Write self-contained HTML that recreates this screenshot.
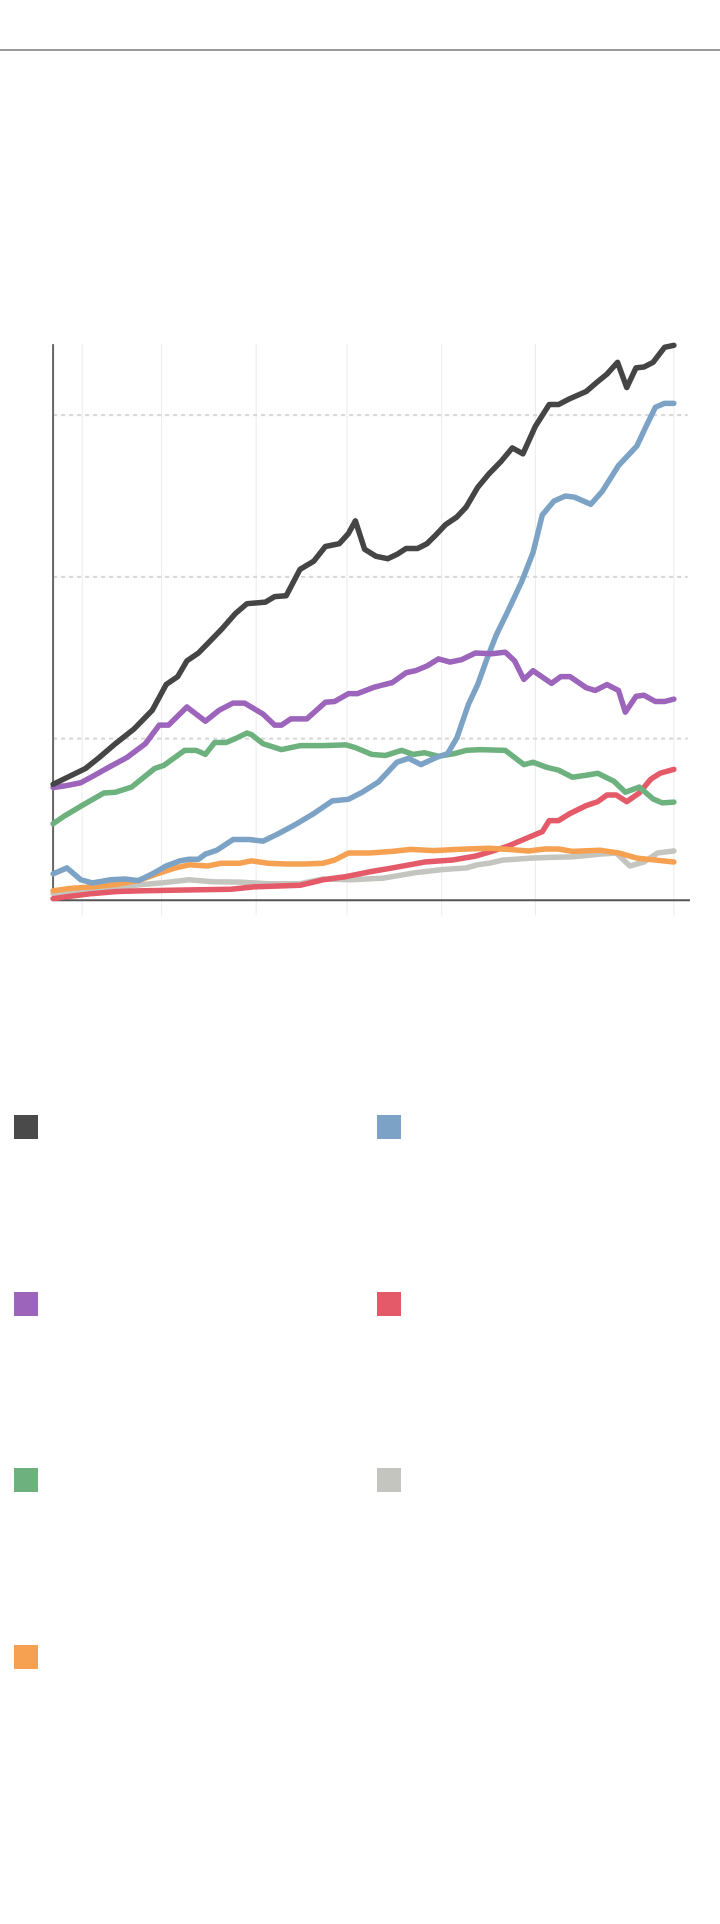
<!DOCTYPE html>
<html><head><meta charset="utf-8"><style>
html,body{margin:0;padding:0;background:#fff;width:720px;height:1924px;overflow:hidden;position:relative;font-family:"Liberation Sans",sans-serif}
.top{position:absolute;left:0;top:49px;width:720px;height:2px;background:#999}
.sq{position:absolute;width:24px;height:24px}
</style></head><body>
<div class="top"></div>
<svg style="position:absolute;left:0;top:300px" width="720" height="620" viewBox="0 0 1560 1572" preserveAspectRatio="none">
<g stroke="#ebebeb" stroke-width="1" vector-effect="non-scaling-stroke">
<line x1="178" y1="112" x2="178" y2="1560" vector-effect="non-scaling-stroke"/>
<line x1="350" y1="112" x2="350" y2="1560" vector-effect="non-scaling-stroke"/>
<line x1="555" y1="112" x2="555" y2="1560" vector-effect="non-scaling-stroke"/>
<line x1="752" y1="112" x2="752" y2="1560" vector-effect="non-scaling-stroke"/>
<line x1="957" y1="112" x2="957" y2="1560" vector-effect="non-scaling-stroke"/>
<line x1="1160" y1="112" x2="1160" y2="1560" vector-effect="non-scaling-stroke"/>
<line x1="1460" y1="112" x2="1460" y2="1560" vector-effect="non-scaling-stroke"/>
</g>
<g stroke="#d6d6d6" stroke-width="2" stroke-dasharray="4 4" fill="none">
<line x1="115" y1="292" x2="1490" y2="292" vector-effect="non-scaling-stroke"/>
<line x1="115" y1="702" x2="1490" y2="702" vector-effect="non-scaling-stroke"/>
<line x1="115" y1="1112" x2="1490" y2="1112" vector-effect="non-scaling-stroke"/>
</g>
<line x1="115" y1="112" x2="115" y2="1522" stroke="#666" stroke-width="2" vector-effect="non-scaling-stroke"/>
<line x1="115" y1="1522" x2="1495" y2="1522" stroke="#555" stroke-width="2" vector-effect="non-scaling-stroke"/>
<g fill="none" stroke-width="5.5" stroke-linejoin="round" stroke-linecap="round">
<polyline vector-effect="non-scaling-stroke" stroke="#c5c5bf" points="115,1505 150,1500 200,1495 250,1490 300,1483 350,1478 410,1470 460,1475 520,1476 580,1480 650,1480 700,1468 760,1470 830,1466 900,1452 960,1444 1010,1440 1035,1432 1060,1428 1090,1420 1150,1415 1200,1413 1240,1412 1300,1405 1335,1402 1365,1435 1395,1425 1425,1402 1460,1397"/>
<polyline vector-effect="non-scaling-stroke" stroke="#e45a68" points="115,1518 150,1512 200,1505 250,1500 300,1498 400,1496 500,1494 550,1488 650,1484 700,1470 750,1462 800,1450 850,1440 920,1425 980,1420 1030,1410 1060,1400 1100,1385 1140,1365 1175,1348 1190,1320 1210,1320 1235,1302 1270,1282 1295,1272 1315,1255 1335,1255 1358,1272 1385,1250 1410,1215 1430,1200 1460,1190"/>
<polyline vector-effect="non-scaling-stroke" stroke="#f6a151" points="115,1498 150,1492 200,1488 250,1482 300,1472 340,1455 380,1440 410,1432 450,1435 480,1428 520,1428 545,1422 580,1428 620,1430 660,1430 700,1428 725,1420 755,1402 800,1402 850,1398 890,1393 940,1396 990,1393 1060,1390 1100,1393 1145,1397 1180,1392 1210,1392 1240,1398 1300,1395 1340,1402 1380,1415 1420,1420 1460,1425"/>
<polyline vector-effect="non-scaling-stroke" stroke="#6db27e" points="115,1328 140,1308 180,1280 225,1250 250,1248 285,1235 335,1188 355,1180 400,1142 425,1142 445,1152 465,1122 490,1122 510,1112 535,1098 545,1102 570,1125 610,1140 650,1130 700,1130 750,1128 770,1135 805,1152 835,1155 870,1142 895,1152 920,1148 950,1157 985,1150 1010,1142 1040,1140 1095,1142 1135,1178 1155,1172 1185,1185 1210,1192 1240,1210 1270,1205 1295,1200 1330,1220 1355,1248 1385,1235 1415,1265 1435,1275 1460,1273"/>
<polyline vector-effect="non-scaling-stroke" stroke="#7ca3c5" points="115,1455 145,1440 175,1470 200,1478 240,1470 270,1468 300,1472 330,1455 360,1435 390,1422 410,1418 430,1418 445,1405 470,1395 505,1368 540,1368 570,1372 600,1355 640,1330 680,1302 720,1270 755,1266 785,1248 820,1222 860,1172 885,1162 912,1178 945,1160 970,1150 990,1110 1015,1025 1035,975 1055,910 1075,850 1100,790 1130,715 1155,640 1175,545 1200,510 1225,497 1245,500 1280,518 1305,485 1340,420 1380,370 1400,320 1420,272 1440,262 1460,262"/>
<polyline vector-effect="non-scaling-stroke" stroke="#9c64bb" points="115,1236 140,1232 175,1224 205,1205 240,1182 275,1160 315,1125 345,1078 365,1078 405,1032 445,1068 475,1040 505,1022 530,1022 570,1050 595,1078 610,1078 630,1062 665,1062 705,1020 725,1018 755,998 775,998 810,982 850,970 880,945 900,940 925,928 950,910 975,918 1000,912 1030,895 1065,897 1095,893 1115,915 1135,962 1155,940 1195,972 1215,955 1235,955 1270,983 1290,990 1315,975 1340,990 1355,1045 1378,1005 1395,1002 1420,1018 1440,1018 1460,1012"/>
<polyline vector-effect="non-scaling-stroke" stroke="#454545" points="115,1228 150,1208 185,1188 215,1160 250,1125 290,1088 330,1040 360,975 385,955 405,915 430,895 455,865 480,835 510,795 535,770 575,766 595,752 620,750 650,683 680,662 705,625 735,618 755,592 770,560 790,632 815,650 840,656 860,645 880,630 905,630 925,618 945,595 965,570 990,550 1010,525 1035,475 1060,440 1085,410 1110,375 1133,390 1160,320 1190,265 1210,265 1235,250 1270,232 1295,207 1315,188 1338,158 1358,222 1378,172 1395,170 1415,158 1440,120 1460,115"/>
</g>
</svg>
<div class="sq" style="left:14px;top:1115px;background:#4a4a4a"></div>
<div class="sq" style="left:377px;top:1115px;background:#7ca3c5"></div>
<div class="sq" style="left:14px;top:1292px;background:#9c64bb"></div>
<div class="sq" style="left:377px;top:1292px;background:#e45a68"></div>
<div class="sq" style="left:14px;top:1468px;background:#6db27e"></div>
<div class="sq" style="left:377px;top:1468px;background:#c5c5bf"></div>
<div class="sq" style="left:14px;top:1645px;background:#f6a151"></div>
</body></html>
